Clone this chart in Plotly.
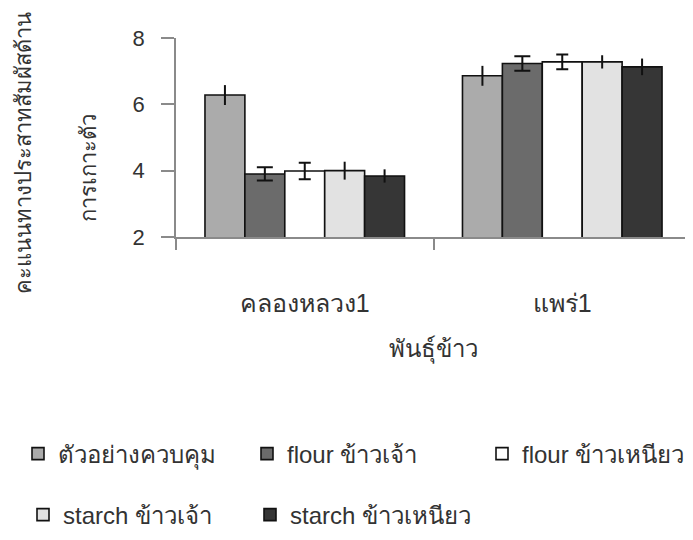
import plotly.graph_objects as go

categories = ["คลองหลวง1", "แพร่1"]
series_names = ["ตัวอย่างควบคุม", "flour ข้าวเจ้า", "flour ข้าวเหนียว",
                "starch ข้าวเจ้า", "starch ข้าวเหนียว"]
control = [6.28, 6.86]
flour_jao = [3.90, 7.23]
flour_niao = [3.99, 7.28]
starch_jao = [4.00, 7.28]
starch_niao = [3.84, 7.13]
err_control = [0.30, 0.30]
err_flour_jao = [0.20, 0.22]
err_flour_niao = [0.25, 0.22]
err_starch_jao = [0.27, 0.20]
err_starch_niao = [0.20, 0.25]
y_ticks = [2, 4, 6, 8]

values = [control, flour_jao, flour_niao, starch_jao, starch_niao]
errors = [err_control, err_flour_jao, err_flour_niao, err_starch_jao, err_starch_niao]
colors = ["#ababab", "#6b6b6b", "#ffffff", "#e2e2e2", "#363636"]
caps = [0, 8, 6, 0, 0]
legends = ["legend", "legend", "legend3", "legend2", "legend2"]

FONT = "Liberation Sans, Arial, sans-serif"

fig = go.Figure()
for name, v, e, c, cap, lg in zip(series_names, values, errors, colors, caps, legends):
    fig.add_trace(go.Bar(
        x=categories, y=v, name=name,
        marker=dict(color=c, line=dict(color="#111111", width=1.6)),
        error_y=dict(type="data", array=e, visible=True, color="#111111",
                     thickness=2, width=cap),
        legend=lg,
    ))

axis_col = "#8a8a8a"
leg_common = dict(orientation="h", xref="container", yref="container",
                  xanchor="left", yanchor="middle",
                  font=dict(size=24), bgcolor="rgba(0,0,0,0)")
fig.update_layout(
    width=693, height=540,
    barmode="group", bargap=0.225, bargroupgap=0,
    paper_bgcolor="white", plot_bgcolor="white",
    font=dict(family=FONT, size=20, color="#333333"),
    margin=dict(l=168, r=10, t=30, b=311, autoexpand=False),
    xaxis=dict(
        range=[-0.5, 1.5], showline=True, linecolor=axis_col, linewidth=1.5,
        ticks="outside", tickson="boundaries", ticklen=11, tickcolor=axis_col,
        tickwidth=1.5, ticklabelstandoff=43, showgrid=False, automargin=False,
        tickfont=dict(size=25),
        title=dict(text="พันธุ์ข้าว", standoff=24, font=dict(size=24)),
    ),
    yaxis=dict(
        range=[2, 8], tickvals=y_ticks, showline=True, linecolor=axis_col,
        linewidth=1.5, ticks="outside", ticklen=13, tickcolor=axis_col,
        tickwidth=1.5, showgrid=False, zeroline=False, automargin=False,
        tickfont=dict(size=22), ticklabelstandoff=12,
    ),
    legend=dict(x=10 / 693, y=1 - 446 / 540, entrywidth=184, **leg_common),
    legend3=dict(x=474 / 693, y=1 - 446 / 540, **leg_common),
    legend2=dict(x=15 / 693, y=1 - 507 / 540, entrywidth=182, **leg_common),
    annotations=[
        dict(text="คะแนนทางประสาทสัมผัสด้าน", xref="paper", yref="paper",
             x=(0 - 168) / 515, y=(229 - 145) / 199, xanchor="left",
             yanchor="middle", textangle=-90, showarrow=False,
             font=dict(size=22)),
        dict(text="การเกาะตัว", xref="paper", yref="paper",
             x=(80 - 168) / 515, y=(237 - 168) / 199, xanchor="center",
             yanchor="middle", textangle=-90, showarrow=False,
             font=dict(size=22)),
    ],
)

fig.write_html("out.html")
